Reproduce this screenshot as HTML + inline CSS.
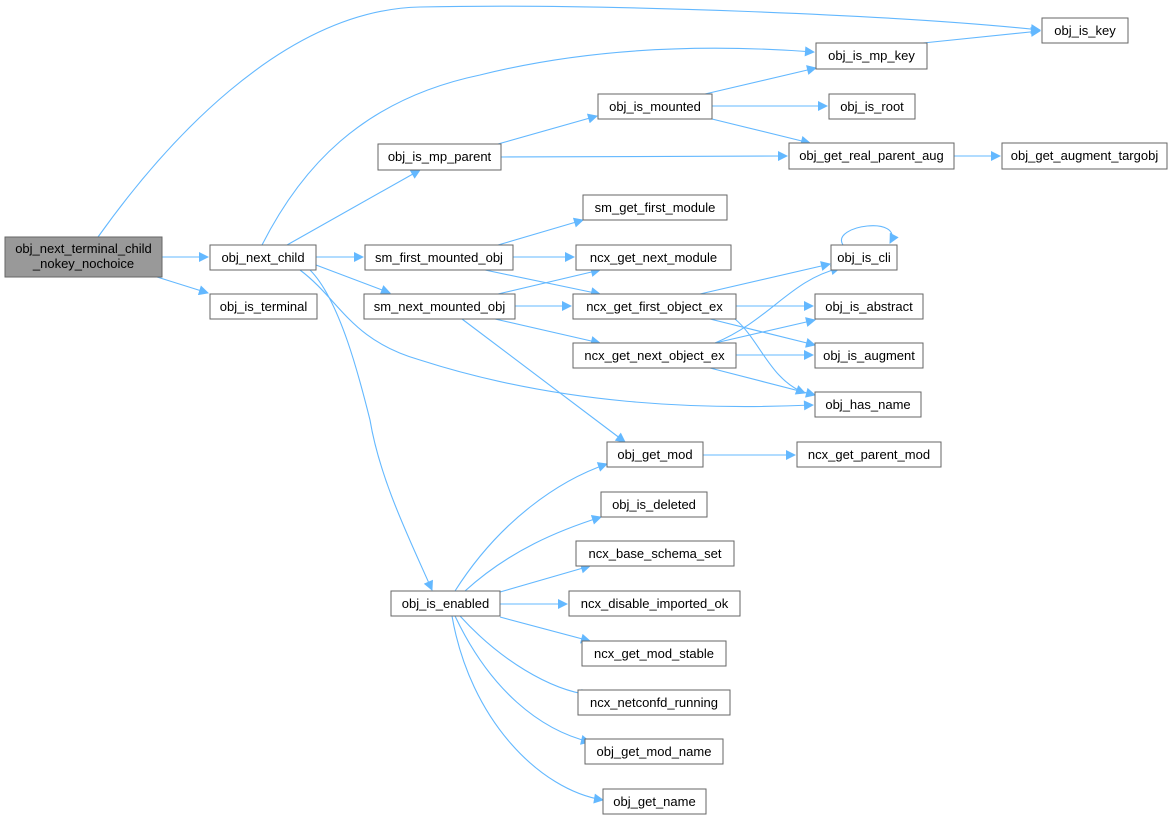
<!DOCTYPE html>
<html><head><meta charset="utf-8"><style>
html,body{margin:0;padding:0;background:#fff;width:1171px;height:821px;overflow:hidden}
svg text{font-family:"Liberation Sans",Arial,sans-serif;font-size:13px;fill:#000}
</style></head><body>
<svg width="1171" height="821" viewBox="0 0 1171 821" xmlns="http://www.w3.org/2000/svg">
<defs><marker id="a" viewBox="0 0 10 10" refX="9" refY="5" markerWidth="14" markerHeight="10" markerUnits="userSpaceOnUse" orient="auto"><path d="M0,0 L10,5 L0,10 z" fill="#63b8ff"/></marker></defs>
<g fill="none" stroke="#63b8ff" stroke-width="1.1" marker-end="url(#a)">
<path d="M162,257 L208,257"/>
<path d="M157,277 L208,293"/>
<path d="M98,237 C160,150 280,10 420,7 C600,3 900,15 1040,30"/>
<path d="M262,245 C300,170 360,100 480,75 C600,45 720,45 814,52"/>
<path d="M287,245 L420,170"/>
<path d="M316,257 L363,257"/>
<path d="M316,265 L390,293"/>
<path d="M300,270 C340,300 350,340 420,360 C560,405 700,410 813,405"/>
<path d="M310,270 C340,300 360,380 370,420 C380,480 410,540 432,590"/>
<path d="M498,144 L597,116"/>
<path d="M501,157 L787,156"/>
<path d="M705,94 L816,68"/>
<path d="M712,106 L827,106"/>
<path d="M712,119 L810,143"/>
<path d="M923,43 L1040,31"/>
<path d="M954,156 L1000,156"/>
<path d="M498,245 L583,220"/>
<path d="M513,257 L574,257"/>
<path d="M485,270 L600,294"/>
<path d="M498,294 L600,270"/>
<path d="M515,306 L571,306"/>
<path d="M495,319 L600,343"/>
<path d="M462,319 L625,442"/>
<path d="M700,294 L830,264"/>
<path d="M736,306 L813,306"/>
<path d="M710,319 L815,345"/>
<path d="M735,319 C760,340 770,380 805,393"/>
<path d="M715,343 C770,320 790,280 840,268"/>
<path d="M715,343 L815,320"/>
<path d="M736,355 L813,355"/>
<path d="M710,368 L815,395"/>
<path d="M843,245 C830,225 905,215 890,243"/>
<path d="M703,455 L795,455"/>
<path d="M455,591 C500,520 560,480 607,464"/>
<path d="M465,591 C510,550 560,530 601,517"/>
<path d="M500,592 L590,566"/>
<path d="M500,604 L567,604"/>
<path d="M500,617 L590,641"/>
<path d="M460,616 C500,660 550,690 590,695"/>
<path d="M455,616 C490,690 540,730 590,742"/>
<path d="M452,616 C470,720 540,790 603,800"/>
</g>
<g stroke="#666" stroke-width="1" fill="#fff">
<rect x="5" y="237" width="157" height="40" fill="#999"/>
<rect x="210" y="245" width="106" height="25"/>
<rect x="210" y="294" width="107" height="25"/>
<rect x="1042" y="18" width="86" height="25"/>
<rect x="816" y="43" width="111" height="26"/>
<rect x="378" y="144" width="123" height="26"/>
<rect x="598" y="94" width="114" height="25"/>
<rect x="829" y="94" width="86" height="25"/>
<rect x="789" y="143" width="165" height="26"/>
<rect x="1002" y="143" width="165" height="26"/>
<rect x="583" y="195" width="144" height="25"/>
<rect x="365" y="245" width="148" height="25"/>
<rect x="576" y="245" width="155" height="25"/>
<rect x="831" y="245" width="66" height="25"/>
<rect x="364" y="294" width="151" height="25"/>
<rect x="573" y="294" width="163" height="25"/>
<rect x="815" y="294" width="108" height="25"/>
<rect x="573" y="343" width="163" height="25"/>
<rect x="815" y="343" width="108" height="25"/>
<rect x="815" y="392" width="106" height="25"/>
<rect x="607" y="442" width="96" height="25"/>
<rect x="797" y="442" width="144" height="25"/>
<rect x="601" y="492" width="106" height="25"/>
<rect x="576" y="541" width="158" height="25"/>
<rect x="391" y="591" width="109" height="25"/>
<rect x="569" y="591" width="171" height="25"/>
<rect x="582" y="641" width="144" height="25"/>
<rect x="578" y="690" width="152" height="25"/>
<rect x="585" y="739" width="138" height="25"/>
<rect x="603" y="789" width="103" height="25"/>
</g>
<g text-anchor="middle">
<text x="83.5" y="253">obj_next_terminal_child</text>
<text x="83.5" y="268">_nokey_nochoice</text>
<text x="263" y="262">obj_next_child</text>
<text x="263.5" y="311">obj_is_terminal</text>
<text x="1085" y="35">obj_is_key</text>
<text x="871.5" y="60">obj_is_mp_key</text>
<text x="439.5" y="161">obj_is_mp_parent</text>
<text x="655" y="111">obj_is_mounted</text>
<text x="872" y="111">obj_is_root</text>
<text x="871.5" y="160">obj_get_real_parent_aug</text>
<text x="1084.5" y="160">obj_get_augment_targobj</text>
<text x="655" y="212">sm_get_first_module</text>
<text x="439" y="262">sm_first_mounted_obj</text>
<text x="653.5" y="262">ncx_get_next_module</text>
<text x="864" y="262">obj_is_cli</text>
<text x="439.5" y="311">sm_next_mounted_obj</text>
<text x="654.5" y="311">ncx_get_first_object_ex</text>
<text x="869" y="311">obj_is_abstract</text>
<text x="654.5" y="360">ncx_get_next_object_ex</text>
<text x="869" y="360">obj_is_augment</text>
<text x="868" y="409">obj_has_name</text>
<text x="655" y="459">obj_get_mod</text>
<text x="869" y="459">ncx_get_parent_mod</text>
<text x="654" y="509">obj_is_deleted</text>
<text x="655" y="558">ncx_base_schema_set</text>
<text x="445.5" y="608">obj_is_enabled</text>
<text x="654.5" y="608">ncx_disable_imported_ok</text>
<text x="654" y="658">ncx_get_mod_stable</text>
<text x="654" y="707">ncx_netconfd_running</text>
<text x="654" y="756">obj_get_mod_name</text>
<text x="654.5" y="806">obj_get_name</text>
</g>
</svg>
</body></html>
